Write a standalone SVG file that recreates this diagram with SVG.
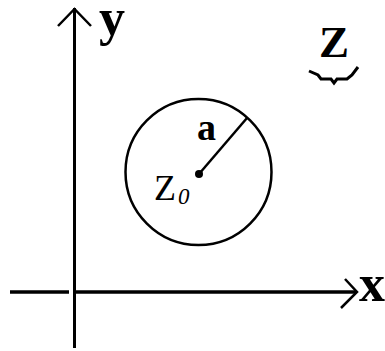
<svg xmlns="http://www.w3.org/2000/svg" width="385" height="351" viewBox="0 0 385 351">
  <style>
    .ln { stroke: #000; fill: none; stroke-linecap: butt; stroke-linejoin: miter; }
    .txt { font-family: "Liberation Serif", "Times New Roman", serif; fill: #000; }
  </style>
  <rect width="385" height="351" fill="#fff"/>
  <g id="connectors">
    <!-- y axis -->
    <line class="ln" x1="74.5" y1="8" x2="74.5" y2="348" stroke-width="3"/>
    <polyline class="ln" points="58,26 74.5,9 91,26" stroke-width="2.5"/>
    <!-- x axis -->
    <line class="ln" x1="10" y1="292" x2="69" y2="292" stroke-width="3.5"/>
    <line class="ln" x1="74.5" y1="292" x2="356" y2="292" stroke-width="3.5"/>
    <polyline class="ln" points="345,279 357,292 341,308" stroke-width="2.5"/>
    <!-- radius -->
    <line class="ln" x1="199" y1="174" x2="247" y2="118" stroke-width="2.5"/>
  </g>
  <g id="disk">
    <circle class="ln" cx="198.5" cy="172" r="73" stroke-width="2.5"/>
    <circle cx="199" cy="174" r="4" fill="#000"/>
  </g>
  <g id="label-y"><text class="txt" x="99" y="35" font-size="52" font-weight="bold">y</text></g>
  <g id="label-x"><text class="txt" x="359" y="301" font-size="52" font-weight="bold">x</text></g>
  <g id="label-Z">
    <text class="txt" x="319" y="57" font-size="45" font-weight="bold">Z</text>
    <polyline class="ln" points="309,71 318,75 321,79 331,79 334,83 337,79 347,79 352,75 358,67" stroke-width="3"/>
  </g>
  <g id="label-a"><text class="txt" x="197" y="140" font-size="38" font-weight="bold">a</text></g>
  <g id="label-z0">
    <text class="txt" x="154" y="200" font-size="36">Z</text>
    <text class="txt" x="178" y="204" font-size="23" font-style="italic">0</text>
  </g>
</svg>
